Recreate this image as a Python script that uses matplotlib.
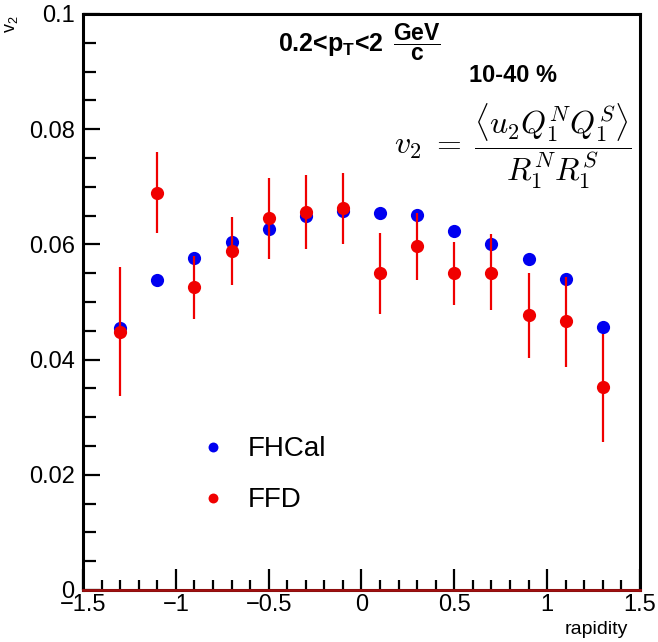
import numpy as np
import matplotlib
matplotlib.use("Agg")
import matplotlib.pyplot as plt
from matplotlib.ticker import MultipleLocator, FixedLocator, FixedFormatter

plt.rcParams['font.family'] = ['Liberation Sans', 'DejaVu Sans']
plt.rcParams['mathtext.fontset'] = 'custom'
plt.rcParams['mathtext.rm'] = 'Liberation Sans'
plt.rcParams['mathtext.it'] = 'Liberation Sans:italic'
plt.rcParams['mathtext.bf'] = 'Liberation Sans:bold'

# rapidity bins
rapidity = [-1.3, -1.1, -0.9, -0.7, -0.5, -0.3, -0.1, 0.1, 0.3, 0.5, 0.7, 0.9, 1.1, 1.3]

# v2 from FHCal
v2_fhcal = [0.0455, 0.0538, 0.0576, 0.0604, 0.0627, 0.0649, 0.0658,
            0.0655, 0.0651, 0.0624, 0.0600, 0.0575, 0.0540, 0.0456]

# v2 from FFD with errors
v2_ffd = [0.0448, 0.0690, 0.0526, 0.0588, 0.0646, 0.0657, 0.0664,
          0.0551, 0.0598, 0.0550, 0.0551, 0.0477, 0.0467, 0.0352]
ffd_err_lo = [0.0112, 0.0070, 0.0056, 0.0059, 0.0071, 0.0065, 0.0063,
              0.0072, 0.0059, 0.0055, 0.0065, 0.0074, 0.0079, 0.0095]
ffd_err_hi = [0.0112, 0.0070, 0.0054, 0.0060, 0.0069, 0.0063, 0.0060,
              0.0069, 0.0056, 0.0055, 0.0067, 0.0074, 0.0077, 0.0092]

xtick_vals = [-1.5, -1, -0.5, 0, 0.5, 1, 1.5]
xtick_labels = ['\u22121.5', '\u22121', '\u22120.5', '0', '0.5', '1', '1.5']
ytick_vals = [0, 0.02, 0.04, 0.06, 0.08, 0.1]
ytick_labels = ['0', '0.02', '0.04', '0.06', '0.08', '0.1']

fig = plt.figure(figsize=(6.58, 6.42), dpi=100)
ax = fig.add_axes([0.1261, 0.081, 0.8465, 0.8972])

h_fhcal, = ax.plot(rapidity, v2_fhcal, 'o', color='#0000f0', markersize=9.5,
                   markeredgewidth=0, label='FHCal', zorder=3)
eb = ax.errorbar(rapidity, v2_ffd, yerr=[ffd_err_lo, ffd_err_hi], fmt='o',
                 color='#f00000', ecolor='#f00000', markersize=9.5,
                 markeredgewidth=0, elinewidth=1.6, capsize=0, zorder=4)

ax.axhline(0, color='#a01010', linewidth=2.0, zorder=5, clip_on=False)

ax.set_xlim(-1.5, 1.5)
ax.set_ylim(0, 0.1)

ax.xaxis.set_major_locator(FixedLocator(xtick_vals))
ax.xaxis.set_major_formatter(FixedFormatter(xtick_labels))
ax.xaxis.set_minor_locator(MultipleLocator(0.1))
ax.yaxis.set_major_locator(FixedLocator(ytick_vals))
ax.yaxis.set_major_formatter(FixedFormatter(ytick_labels))
ax.yaxis.set_minor_locator(MultipleLocator(0.005))

ax.tick_params(axis='both', which='both', direction='in', top=False, right=False,
               labelsize=17, width=1.6, color='black')
ax.tick_params(axis='x', which='major', length=15, pad=3)
ax.tick_params(axis='x', which='minor', length=7)
ax.tick_params(axis='y', which='major', length=12, pad=6)
ax.tick_params(axis='y', which='minor', length=9)

for sp in ax.spines.values():
    sp.set_linewidth(2.2)

fig.text(0.018, 0.962, r'v$_2$', rotation=90, fontsize=13, ha='center', va='center')
fig.text(0.955, 0.020, 'rapidity', fontsize=14, ha='right', va='center')

ax.text(0.350, 0.947, r'0.2<p$_{\mathbf{T}}$<2', transform=ax.transAxes,
        fontsize=18, fontweight='bold', ha='left', va='center')
ax.text(0.556, 0.951, r'$\mathbf{\dfrac{GeV}{c}}$', transform=ax.transAxes,
        fontsize=16.5, ha='left', va='center')
ax.text(0.772, 0.894, '10-40 %', transform=ax.transAxes, fontsize=17,
        fontweight='bold', ha='center', va='center')
ax.text(0.9856, 0.77,
        r'$v_2 \;=\; \dfrac{\langle u_2 Q_1^N Q_1^S\rangle}{R_1^N R_1^S}$',
        transform=ax.transAxes, fontsize=23, ha='right', va='center',
        math_fontfamily='cm')

ax.legend([h_fhcal, eb.lines[0]], ['FHCal', 'FFD'], loc='center left',
          bbox_to_anchor=(0.158, 0.2, 0, 0), frameon=False, fontsize=20,
          markerscale=0.75, handletextpad=0.65, labelspacing=0.9,
          handlelength=1.2)

fig.savefig('out.png', dpi=100)
